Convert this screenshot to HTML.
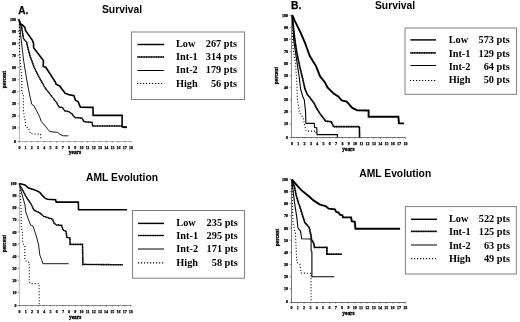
<!DOCTYPE html>
<html><head><meta charset="utf-8"><title>Survival and AML Evolution</title>
<style>
html,body{margin:0;padding:0;background:#fff;}
body{width:520px;height:322px;overflow:hidden;}
svg{display:block;will-change:transform;}
polyline,path{fill:none;stroke:#000;stroke-linejoin:miter;}
.low{stroke-width:1.6;}
.i1{stroke-width:1.6;stroke-dasharray:1.1 0.6;}
.i1s{stroke-width:0.9;}
.i2{stroke-width:0.9;}
.hi{stroke-width:1.1;stroke-dasharray:1 2;}
.b .low{stroke-width:1.9;}
.b .i1{stroke-width:1.75;stroke-dasharray:1.2 0.5;}
.b .i1s{stroke-width:1.05;}
.b .i2{stroke-width:1.1;}
.ax{stroke:#b0b0b0;stroke-width:1;}
.tk{stroke:#555;stroke-width:0.6;}
.lg{fill:#fff;stroke:#808080;stroke-width:1;}
.lgi2{stroke-width:1;}
.lglow{stroke-width:1.45;}
.lghi{stroke-width:1.2;stroke-dasharray:1.2 1.8;}
text{fill:#000;}
.tl{font-family:"Liberation Serif",serif;font-weight:bold;font-size:4px;stroke:#000;stroke-width:0.25px;}
.al{font-family:"Liberation Serif",serif;font-weight:bold;font-size:5.4px;stroke:#000;stroke-width:0.3px;}
.pl{stroke:#000;stroke-width:0.25px;}
.lt{font-family:"Liberation Serif",serif;font-weight:bold;font-size:10.3px;}
.ti{font-family:"Liberation Sans",sans-serif;font-weight:bold;font-size:10.3px;}
</style></head>
<body>
<svg width="520" height="322" viewBox="0 0 520 322">
<rect x="0" y="0" width="520" height="322" fill="#fff" stroke="none"/>
<path d="M19.5,18.9V142.0" style="stroke:#b4b4b4;stroke-width:1"/>
<path d="M19.0,141.5H131.5" style="stroke:#b4b4b4;stroke-width:1"/>
<path class="tk" d="M17.5,19.4h1.6M17.5,31.5h1.6M17.5,43.5h1.6M17.5,55.6h1.6M17.5,67.6h1.6M17.5,79.7h1.6M17.5,91.8h1.6M17.5,103.8h1.6M17.5,115.9h1.6M17.5,127.9h1.6M17.5,141.5h1.6M19.4,141.0v1.6M25.6,141.0v1.6M31.8,141.0v1.6M38.0,141.0v1.6M44.2,141.0v1.6M50.4,141.0v1.6M56.6,141.0v1.6M62.8,141.0v1.6M69.0,141.0v1.6M75.2,141.0v1.6M81.4,141.0v1.6M87.6,141.0v1.6M93.8,141.0v1.6M100.0,141.0v1.6M106.2,141.0v1.6M112.4,141.0v1.6M118.6,141.0v1.6M124.8,141.0v1.6M131.0,141.0v1.6"/>
<text class="tl" text-anchor="end" x="16.1" y="20.9">100</text>
<text class="tl" text-anchor="end" x="16.1" y="33.0">90</text>
<text class="tl" text-anchor="end" x="16.1" y="45.0">80</text>
<text class="tl" text-anchor="end" x="16.1" y="57.1">70</text>
<text class="tl" text-anchor="end" x="16.1" y="69.1">60</text>
<text class="tl" text-anchor="end" x="16.1" y="81.2">50</text>
<text class="tl" text-anchor="end" x="16.1" y="93.3">40</text>
<text class="tl" text-anchor="end" x="16.1" y="105.3">30</text>
<text class="tl" text-anchor="end" x="16.1" y="117.4">20</text>
<text class="tl" text-anchor="end" x="16.1" y="129.4">10</text>
<text class="tl" text-anchor="end" x="16.1" y="142.9">0</text>
<text class="tl" text-anchor="middle" x="19.4" y="148.5">0</text>
<text class="tl" text-anchor="middle" x="25.6" y="148.5">1</text>
<text class="tl" text-anchor="middle" x="31.8" y="148.5">2</text>
<text class="tl" text-anchor="middle" x="38.0" y="148.5">3</text>
<text class="tl" text-anchor="middle" x="44.2" y="148.5">4</text>
<text class="tl" text-anchor="middle" x="50.4" y="148.5">5</text>
<text class="tl" text-anchor="middle" x="56.6" y="148.5">6</text>
<text class="tl" text-anchor="middle" x="62.8" y="148.5">7</text>
<text class="tl" text-anchor="middle" x="69.0" y="148.5">8</text>
<text class="tl" text-anchor="middle" x="75.2" y="148.5">9</text>
<text class="tl" text-anchor="middle" x="81.4" y="148.5">10</text>
<text class="tl" text-anchor="middle" x="87.6" y="148.5">11</text>
<text class="tl" text-anchor="middle" x="93.8" y="148.5">12</text>
<text class="tl" text-anchor="middle" x="100.0" y="148.5">13</text>
<text class="tl" text-anchor="middle" x="106.2" y="148.5">14</text>
<text class="tl" text-anchor="middle" x="112.4" y="148.5">15</text>
<text class="tl" text-anchor="middle" x="118.6" y="148.5">16</text>
<text class="tl" text-anchor="middle" x="124.8" y="148.5">17</text>
<text class="tl" text-anchor="middle" x="131.0" y="148.5">18</text>
<text class="al" x="68.8" y="154.1">years</text>
<text class="al" text-anchor="middle" transform="translate(5.8,79.5) rotate(-90)">percent</text>
<g class="a"><polyline class="hi" points="19.4,24.0 19.4,48.7 21.8,80.0 21.8,92.4 23.4,94.3 23.4,111.0 24.3,117.3 25.5,121.2 25.5,126.8 28.6,128.0 30.5,133.6 40.6,134.3 41.0,139.8"/>
<polyline class="i2" points="19.4,20.0 19.9,24.9 20.6,34.8 22.4,50.0 23.7,61.1 26.8,80.0 28.6,89.9 31.7,104.2 34.2,106.1 39.8,117.3 41.1,121.2 49.8,131.6 57.5,132.3 60.0,134.5 63.4,135.8 68.4,135.8"/>
<polyline class="i1s" points="19.2,19.9 21.7,27.4 23.5,38.6 26.6,42.3 28.4,50.0 30.1,56.2 34.2,67.4 38.3,75.7 42.6,83.3 44.8,87.4 49.1,93.0 56.7,102.8 59.0,106.9 62.5,107.6 64.6,110.8 68.7,111.6 71.7,113.6 74.8,117.5 81.8,118.1 84.1,121.7 92.0,122.4 92.7,126.0 121.0,126.0 124.3,127.4 127.0,127.4"/><polyline class="i1" points="19.2,19.9 21.7,27.4 23.5,38.6 26.6,42.3 28.4,50.0 30.1,56.2 34.2,67.4 38.3,75.7 42.6,83.3 44.8,87.4 49.1,93.0 56.7,102.8 59.0,106.9 62.5,107.6 64.6,110.8 68.7,111.6 71.7,113.6 74.8,117.5 81.8,118.1 84.1,121.7 92.0,122.4 92.7,126.0 121.0,126.0 124.3,127.4 127.0,127.4"/>
<polyline class="low" points="18.9,19.3 19.9,23.7 22.4,24.9 24.9,27.4 25.5,30.5 32.4,40.4 33.6,43.5 33.6,47.8 43.4,60.5 43.2,66.5 45.8,67.2 55.5,82.4 56.2,84.3 59.6,85.9 65.2,93.3 69.8,94.9 74.0,95.6 75.4,100.2 78.2,101.9 80.4,107.2 93.0,107.4 93.1,115.4 122.1,115.4 122.1,126.8 126.6,127.0"/></g>
<rect class="lg" x="131.5" y="32.0" width="113.0" height="67.5"/>
<path class="low lglow" d="M137.4,44.5H164.2"/>
<text class="lt" x="176.0" y="46.9">Low</text>
<text class="lt" text-anchor="end" x="237.0" y="46.9">267 pts</text>
<path class="i1s" d="M137.4,57H164.2"/>
<path class="i1" d="M137.4,57H164.2"/>
<text class="lt" x="176.0" y="60.2">Int-1</text>
<text class="lt" text-anchor="end" x="237.0" y="60.2">314 pts</text>
<path class="i2 lgi2" d="M137.4,70.5H164.2"/>
<text class="lt" x="176.0" y="73.4">Int-2</text>
<text class="lt" text-anchor="end" x="237.0" y="73.4">179 pts</text>
<path class="hi lghi" d="M137,83.5H164.2"/>
<text class="lt" x="176.0" y="86.7">High</text>
<text class="lt" text-anchor="end" x="237.0" y="86.7">56 pts</text>
<text class="ti pl" x="18.3" y="13.6" style="font-size:10px">A.</text><text class="ti" x="102" y="13.1">Survival</text>
<path d="M19.5,183.2V306.0" style="stroke:#c0c0c0;stroke-width:1"/>
<path d="M19.0,305.5H131.3" style="stroke:#8a8a8a;stroke-width:1"/>
<path class="tk" d="M17.5,183.7h1.6M17.5,195.8h1.6M17.5,207.9h1.6M17.5,219.9h1.6M17.5,232.0h1.6M17.5,244.1h1.6M17.5,256.2h1.6M17.5,268.3h1.6M17.5,280.3h1.6M17.5,292.4h1.6M17.5,305.5h1.6M19.6,305.0v1.6M25.8,305.0v1.6M32.0,305.0v1.6M38.1,305.0v1.6M44.3,305.0v1.6M50.5,305.0v1.6M56.7,305.0v1.6M62.9,305.0v1.6M69.0,305.0v1.6M75.2,305.0v1.6M81.4,305.0v1.6M87.6,305.0v1.6M93.8,305.0v1.6M99.9,305.0v1.6M106.1,305.0v1.6M112.3,305.0v1.6M118.5,305.0v1.6M124.7,305.0v1.6M130.8,305.0v1.6"/>
<text class="tl" text-anchor="end" x="16.6" y="185.2">100</text>
<text class="tl" text-anchor="end" x="16.6" y="197.3">90</text>
<text class="tl" text-anchor="end" x="16.6" y="209.4">80</text>
<text class="tl" text-anchor="end" x="16.6" y="221.4">70</text>
<text class="tl" text-anchor="end" x="16.6" y="233.5">60</text>
<text class="tl" text-anchor="end" x="16.6" y="245.6">50</text>
<text class="tl" text-anchor="end" x="16.6" y="257.7">40</text>
<text class="tl" text-anchor="end" x="16.6" y="269.8">30</text>
<text class="tl" text-anchor="end" x="16.6" y="281.8">20</text>
<text class="tl" text-anchor="end" x="16.6" y="293.9">10</text>
<text class="tl" text-anchor="end" x="16.6" y="306.7">0</text>
<text class="tl" text-anchor="middle" x="19.6" y="313.1">0</text>
<text class="tl" text-anchor="middle" x="25.8" y="313.1">1</text>
<text class="tl" text-anchor="middle" x="32.0" y="313.1">2</text>
<text class="tl" text-anchor="middle" x="38.1" y="313.1">3</text>
<text class="tl" text-anchor="middle" x="44.3" y="313.1">4</text>
<text class="tl" text-anchor="middle" x="50.5" y="313.1">5</text>
<text class="tl" text-anchor="middle" x="56.7" y="313.1">6</text>
<text class="tl" text-anchor="middle" x="62.9" y="313.1">7</text>
<text class="tl" text-anchor="middle" x="69.0" y="313.1">8</text>
<text class="tl" text-anchor="middle" x="75.2" y="313.1">9</text>
<text class="tl" text-anchor="middle" x="81.4" y="313.1">10</text>
<text class="tl" text-anchor="middle" x="87.6" y="313.1">11</text>
<text class="tl" text-anchor="middle" x="93.8" y="313.1">12</text>
<text class="tl" text-anchor="middle" x="99.9" y="313.1">13</text>
<text class="tl" text-anchor="middle" x="106.1" y="313.1">14</text>
<text class="tl" text-anchor="middle" x="112.3" y="313.1">15</text>
<text class="tl" text-anchor="middle" x="118.5" y="313.1">16</text>
<text class="tl" text-anchor="middle" x="124.7" y="313.1">17</text>
<text class="tl" text-anchor="middle" x="130.8" y="313.1">18</text>
<text class="al" x="69.0" y="319.0">years</text>
<text class="al" text-anchor="middle" transform="translate(6.0,243.7) rotate(-90)">percent</text>
<g class="a"><polyline class="hi" points="20.0,190.0 21.2,212.0 21.2,226.1 22.4,232.4 22.7,243.5 24.8,246.0 24.9,259.9 26.8,261.8 29.3,262.4 29.3,282.3 30.3,283.6 39.1,283.7 39.2,304.8"/>
<polyline class="i2" points="19.7,186.2 21.8,193.6 24.9,204.8 25.8,212.0 28.6,219.9 30.5,224.9 33.0,226.1 36.7,237.3 38.6,245.0 39.8,254.9 41.7,259.9 42.9,263.7 68.8,263.7"/>
<polyline class="i1s" points="19.3,184.3 21.8,188.7 26.1,196.7 31.1,204.2 34.2,210.4 39.8,212.9 43.5,216.2 48.7,218.0 52.5,219.2 54.3,223.5 56.8,225.0 61.6,225.3 63.0,230.0 66.1,231.2 66.8,237.4 69.9,238.0 70.1,244.4 82.5,244.4 82.9,264.4 122.9,264.8"/><polyline class="i1" points="19.3,184.3 21.8,188.7 26.1,196.7 31.1,204.2 34.2,210.4 39.8,212.9 43.5,216.2 48.7,218.0 52.5,219.2 54.3,223.5 56.8,225.0 61.6,225.3 63.0,230.0 66.1,231.2 66.8,237.4 69.9,238.0 70.1,244.4 82.5,244.4 82.9,264.4 122.9,264.8"/>
<polyline class="low" points="19.3,183.4 24.9,184.9 28.6,188.0 34.8,189.9 39.8,192.4 42.3,195.5 45.0,198.1 47.5,199.3 55.6,199.7 56.2,202.1 78.3,202.1 78.5,209.7 127.1,209.7"/></g>
<rect class="lg" x="132.5" y="210.5" width="112.0" height="67.7"/>
<path class="low lglow" d="M138,223.4H164"/>
<text class="lt" x="176.3" y="225.6">Low</text>
<text class="lt" text-anchor="end" x="237.8" y="225.6">235 pts</text>
<path class="i1s" d="M138,235.5H164"/>
<path class="i1" d="M138,235.5H164"/>
<text class="lt" x="176.3" y="239.0">Int-1</text>
<text class="lt" text-anchor="end" x="237.8" y="239.0">295 pts</text>
<path class="i2 lgi2" d="M138,249.0H164"/>
<text class="lt" x="176.3" y="252.4">Int-2</text>
<text class="lt" text-anchor="end" x="237.8" y="252.4">171 pts</text>
<path class="hi lghi" d="M138,262.9H164"/>
<text class="lt" x="176.3" y="265.8">High</text>
<text class="lt" text-anchor="end" x="237.8" y="265.8">58 pts</text>
<text class="ti" x="86.1" y="181">AML Evolution</text>
<path d="M291.5,14.8V138.0" style="stroke:#888888;stroke-width:1"/>
<path d="M291.0,137.5H405.9" style="stroke:#777777;stroke-width:1"/>
<path class="tk" d="M289.5,15.3h1.6M289.5,27.4h1.6M289.5,39.4h1.6M289.5,51.5h1.6M289.5,63.6h1.6M289.5,75.7h1.6M289.5,87.7h1.6M289.5,99.8h1.6M289.5,111.9h1.6M289.5,123.9h1.6M289.5,137.5h1.6M292.0,137.0v1.6M298.3,137.0v1.6M304.6,137.0v1.6M310.9,137.0v1.6M317.2,137.0v1.6M323.5,137.0v1.6M329.8,137.0v1.6M336.1,137.0v1.6M342.4,137.0v1.6M348.7,137.0v1.6M355.0,137.0v1.6M361.3,137.0v1.6M367.6,137.0v1.6M373.9,137.0v1.6M380.2,137.0v1.6M386.5,137.0v1.6M392.8,137.0v1.6M399.1,137.0v1.6M405.4,137.0v1.6"/>
<text class="tl" text-anchor="end" x="288.1" y="16.8">100</text>
<text class="tl" text-anchor="end" x="288.1" y="28.9">90</text>
<text class="tl" text-anchor="end" x="288.1" y="40.9">80</text>
<text class="tl" text-anchor="end" x="288.1" y="53.0">70</text>
<text class="tl" text-anchor="end" x="288.1" y="65.1">60</text>
<text class="tl" text-anchor="end" x="288.1" y="77.2">50</text>
<text class="tl" text-anchor="end" x="288.1" y="89.2">40</text>
<text class="tl" text-anchor="end" x="288.1" y="101.3">30</text>
<text class="tl" text-anchor="end" x="288.1" y="113.4">20</text>
<text class="tl" text-anchor="end" x="288.1" y="125.4">10</text>
<text class="tl" text-anchor="end" x="288.1" y="138.8">0</text>
<text class="tl" text-anchor="middle" x="292.0" y="145.1">0</text>
<text class="tl" text-anchor="middle" x="298.3" y="145.1">1</text>
<text class="tl" text-anchor="middle" x="304.6" y="145.1">2</text>
<text class="tl" text-anchor="middle" x="310.9" y="145.1">3</text>
<text class="tl" text-anchor="middle" x="317.2" y="145.1">4</text>
<text class="tl" text-anchor="middle" x="323.5" y="145.1">5</text>
<text class="tl" text-anchor="middle" x="329.8" y="145.1">6</text>
<text class="tl" text-anchor="middle" x="336.1" y="145.1">7</text>
<text class="tl" text-anchor="middle" x="342.4" y="145.1">8</text>
<text class="tl" text-anchor="middle" x="348.7" y="145.1">9</text>
<text class="tl" text-anchor="middle" x="355.0" y="145.1">10</text>
<text class="tl" text-anchor="middle" x="361.3" y="145.1">11</text>
<text class="tl" text-anchor="middle" x="367.6" y="145.1">12</text>
<text class="tl" text-anchor="middle" x="373.9" y="145.1">13</text>
<text class="tl" text-anchor="middle" x="380.2" y="145.1">14</text>
<text class="tl" text-anchor="middle" x="386.5" y="145.1">15</text>
<text class="tl" text-anchor="middle" x="392.8" y="145.1">16</text>
<text class="tl" text-anchor="middle" x="399.1" y="145.1">17</text>
<text class="tl" text-anchor="middle" x="405.4" y="145.1">18</text>
<text class="al" x="342.3" y="151.1">years</text>
<text class="al" text-anchor="middle" transform="translate(278.2,75.6) rotate(-90)">percent</text>
<g class="b"><polyline class="hi" points="292.5,30.0 293.0,47.5 295.5,62.4 296.2,73.7 296.8,82.4 297.4,99.8 298.6,106.0 299.3,112.5 303.0,117.4 304.9,126.1 306.1,131.1 316.0,131.1 316.0,135.0"/>
<polyline class="i2" points="292.3,16.0 293.7,40.0 295.5,52.4 297.4,64.8 299.3,77.5 300.5,88.6 303.0,97.3 304.3,99.8 305.5,111.2 305.9,123.4 314.3,123.4 314.6,127.4 316.8,128.0 317.0,134.6 337.4,134.6 337.4,137.5"/>
<polyline class="i1s" points="292.3,16.0 293.5,28.0 294.9,40.0 296.8,52.4 299.9,67.3 302.4,77.5 304.9,88.6 307.4,94.8 309.2,96.7 314.2,103.5 317.3,109.5 320.0,113.7 325.6,121.1 331.2,121.8 333.7,126.7 359.4,126.7 359.6,137.6"/><polyline class="i1" points="292.3,16.0 293.5,28.0 294.9,40.0 296.8,52.4 299.9,67.3 302.4,77.5 304.9,88.6 307.4,94.8 309.2,96.7 314.2,103.5 317.3,109.5 320.0,113.7 325.6,121.1 331.2,121.8 333.7,126.7 359.4,126.7 359.6,137.6"/>
<polyline class="low" points="292.2,14.9 294.9,21.1 299.9,31.1 304.8,42.3 306.7,47.5 309.8,56.1 316.0,66.1 320.0,76.2 325.0,82.5 327.5,87.4 333.7,93.6 338.6,96.7 341.7,100.5 346.7,101.7 352.3,107.9 357.3,110.4 368.6,110.5 368.6,116.7 398.4,116.7 398.9,123.4 404.1,123.4"/></g>
<rect class="lg" x="405.0" y="28.0" width="111.5" height="66.3"/>
<path class="low lglow" d="M410.4,39.9H436"/>
<text class="lt" x="448.7" y="43.2">Low</text>
<text class="lt" text-anchor="end" x="509.7" y="43.2">573 pts</text>
<path class="i1s" d="M410.4,52.9H436"/>
<path class="i1" d="M410.4,52.9H436"/>
<text class="lt" x="448.7" y="56.5">Int-1</text>
<text class="lt" text-anchor="end" x="509.7" y="56.5">129 pts</text>
<path class="i2 lgi2" d="M410.4,65.5H436"/>
<text class="lt" x="448.7" y="69.8">Int-2</text>
<text class="lt" text-anchor="end" x="509.7" y="69.8">64 pts</text>
<path class="hi lghi" d="M410,80.5H436"/>
<text class="lt" x="448.7" y="83.0">High</text>
<text class="lt" text-anchor="end" x="509.7" y="83.0">50 pts</text>
<text class="ti pl" x="291" y="9.4">B.</text><text class="ti" x="375" y="9">Survival</text>
<path d="M291.5,178.9V303.0" style="stroke:#777777;stroke-width:1"/>
<path d="M291.0,302.5H405.8" style="stroke:#707070;stroke-width:1"/>
<path class="tk" d="M289.5,179.4h1.6M289.5,191.6h1.6M289.5,203.7h1.6M289.5,215.9h1.6M289.5,228.0h1.6M289.5,240.2h1.6M289.5,252.4h1.6M289.5,264.5h1.6M289.5,276.7h1.6M289.5,288.8h1.6M289.5,302.5h1.6M291.5,302.0v1.6M297.8,302.0v1.6M304.1,302.0v1.6M310.5,302.0v1.6M316.8,302.0v1.6M323.1,302.0v1.6M329.4,302.0v1.6M335.7,302.0v1.6M342.1,302.0v1.6M348.4,302.0v1.6M354.7,302.0v1.6M361.0,302.0v1.6M367.3,302.0v1.6M373.7,302.0v1.6M380.0,302.0v1.6M386.3,302.0v1.6M392.6,302.0v1.6M398.9,302.0v1.6M405.3,302.0v1.6"/>
<text class="tl" text-anchor="end" x="288.1" y="180.9">100</text>
<text class="tl" text-anchor="end" x="288.1" y="193.1">90</text>
<text class="tl" text-anchor="end" x="288.1" y="205.2">80</text>
<text class="tl" text-anchor="end" x="288.1" y="217.4">70</text>
<text class="tl" text-anchor="end" x="288.1" y="229.5">60</text>
<text class="tl" text-anchor="end" x="288.1" y="241.7">50</text>
<text class="tl" text-anchor="end" x="288.1" y="253.9">40</text>
<text class="tl" text-anchor="end" x="288.1" y="266.0">30</text>
<text class="tl" text-anchor="end" x="288.1" y="278.2">20</text>
<text class="tl" text-anchor="end" x="288.1" y="290.3">10</text>
<text class="tl" text-anchor="end" x="288.1" y="303.2">0</text>
<text class="tl" text-anchor="middle" x="291.5" y="308.6">0</text>
<text class="tl" text-anchor="middle" x="297.8" y="308.6">1</text>
<text class="tl" text-anchor="middle" x="304.1" y="308.6">2</text>
<text class="tl" text-anchor="middle" x="310.5" y="308.6">3</text>
<text class="tl" text-anchor="middle" x="316.8" y="308.6">4</text>
<text class="tl" text-anchor="middle" x="323.1" y="308.6">5</text>
<text class="tl" text-anchor="middle" x="329.4" y="308.6">6</text>
<text class="tl" text-anchor="middle" x="335.7" y="308.6">7</text>
<text class="tl" text-anchor="middle" x="342.1" y="308.6">8</text>
<text class="tl" text-anchor="middle" x="348.4" y="308.6">9</text>
<text class="tl" text-anchor="middle" x="354.7" y="308.6">10</text>
<text class="tl" text-anchor="middle" x="361.0" y="308.6">11</text>
<text class="tl" text-anchor="middle" x="367.3" y="308.6">12</text>
<text class="tl" text-anchor="middle" x="373.7" y="308.6">13</text>
<text class="tl" text-anchor="middle" x="380.0" y="308.6">14</text>
<text class="tl" text-anchor="middle" x="386.3" y="308.6">15</text>
<text class="tl" text-anchor="middle" x="392.6" y="308.6">16</text>
<text class="tl" text-anchor="middle" x="398.9" y="308.6">17</text>
<text class="tl" text-anchor="middle" x="405.3" y="308.6">18</text>
<text class="al" x="342.3" y="315.4">years</text>
<text class="al" text-anchor="middle" transform="translate(278.5,237.5) rotate(-90)">percent</text>
<g class="b"><polyline class="hi" points="291.9,185.0 292.4,205.0 293.0,223.6 295.5,233.6 295.7,240.0 296.1,247.5 296.8,262.4 299.9,264.2 301.1,273.0 311.0,273.4 311.1,301.6"/>
<polyline class="i2" points="291.9,181.0 293.0,189.9 294.3,201.1 294.9,205.0 296.8,217.4 298.0,228.0 300.5,231.1 301.7,238.8 311.1,239.0 311.1,250.6 311.9,251.8 311.9,276.7 334.3,276.7"/>
<polyline class="i1s" points="291.8,180.0 294.3,186.1 296.1,194.8 298.6,203.5 299.3,205.0 302.4,214.9 304.8,222.4 309.2,227.4 311.1,236.1 311.5,239.5 313.7,243.1 314.5,247.4 326.9,247.4 326.9,254.2 341.8,254.2"/><polyline class="i1" points="291.8,180.0 294.3,186.1 296.1,194.8 298.6,203.5 299.3,205.0 302.4,214.9 304.8,222.4 309.2,227.4 311.1,236.1 311.5,239.5 313.7,243.1 314.5,247.4 326.9,247.4 326.9,254.2 341.8,254.2"/>
<polyline class="low" points="291.8,179.3 296.1,184.3 301.1,189.9 304.8,193.0 308.6,196.1 313.5,200.4 317.3,202.9 320.0,204.6 325.6,206.0 328.7,208.7 334.9,209.3 336.1,211.8 338.6,212.5 339.9,214.7 342.4,215.2 343.0,217.4 351.1,217.4 351.7,221.1 354.8,221.8 355.4,228.7 400.1,228.7"/></g>
<rect class="lg" x="405.4" y="206.6" width="110.9" height="67.4"/>
<path class="low lglow" d="M411,219.3H437"/>
<text class="lt" x="448.9" y="221.7">Low</text>
<text class="lt" text-anchor="end" x="510.0" y="221.7">522 pts</text>
<path class="i1s" d="M411,231.4H437"/>
<path class="i1" d="M411,231.4H437"/>
<text class="lt" x="448.9" y="235.2">Int-1</text>
<text class="lt" text-anchor="end" x="510.0" y="235.2">125 pts</text>
<path class="i2 lgi2" d="M411,245.0H437"/>
<text class="lt" x="448.9" y="248.7">Int-2</text>
<text class="lt" text-anchor="end" x="510.0" y="248.7">63 pts</text>
<path class="hi lghi" d="M411,258.6H437"/>
<text class="lt" x="448.9" y="262.2">High</text>
<text class="lt" text-anchor="end" x="510.0" y="262.2">49 pts</text>
<text class="ti" x="359.3" y="177.1">AML Evolution</text>
</svg>
</body></html>
